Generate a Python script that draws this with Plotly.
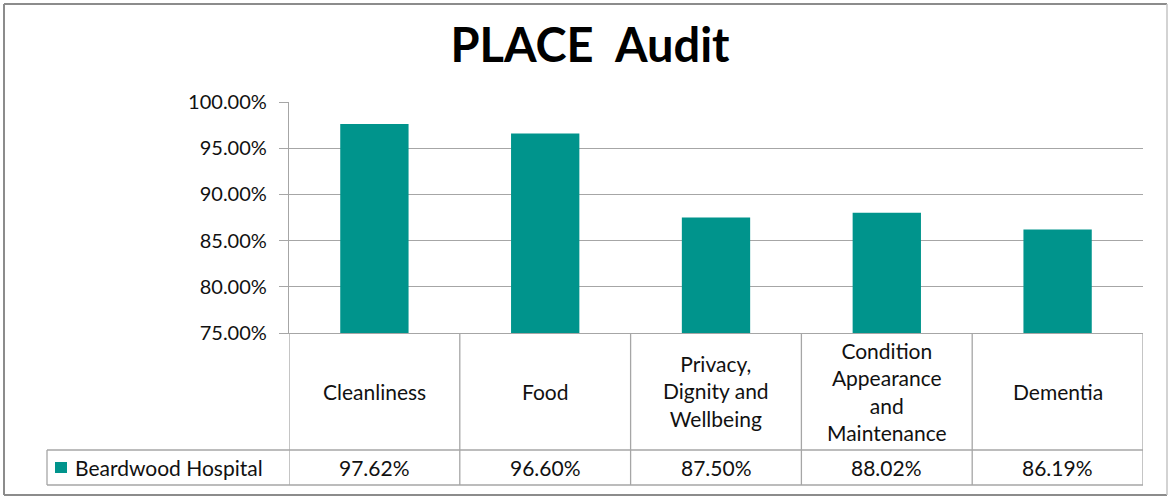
import plotly.graph_objects as go

# ---- data ----
categories = ["Cleanliness", "Food", "Privacy,<br>Dignity and<br>Wellbeing",
              "Condition<br>Appearance<br>and<br>Maintenance", "Dementia"]
series_name = "Beardwood Hospital"
values = [0.9762, 0.9660, 0.8750, 0.8802, 0.8619]
y_ticks = [0.75, 0.80, 0.85, 0.90, 0.95, 1.00]

# ---- layout geometry (pixels) ----
W, H = 1169, 499
L, R, T, B = 289, 1143, 102, 333
PW, PH = R - L, B - T
BAR = "#00948C"
GRID = "#a6a6a6"
FONT = "Lato, 'Gill Sans', sans-serif"

def px(x):
    return (x - L) / PW

def py(y):
    return (B - y) / PH

xs = list(range(len(categories)))

fig = go.Figure()
fig.add_trace(go.Bar(x=xs, y=values, width=0.4, marker=dict(color=BAR, line=dict(width=0)),
                     name=series_name, showlegend=False, hoverinfo="y"))

shapes = []
# table vertical lines (category boundaries)
for i in range(len(categories) + 1):
    shapes.append(dict(type="line", xref="x", yref="paper", x0=i - 0.5, x1=i - 0.5,
                       y0=py(333), y1=py(485), line=dict(color=GRID, width=1.3)))
# table horizontal lines
for yy in (450, 485):
    shapes.append(dict(type="line", xref="paper", yref="paper", x0=px(47), x1=1,
                       y0=py(yy), y1=py(yy), line=dict(color=GRID, width=1.3)))
# legend cell left edge
shapes.append(dict(type="line", xref="paper", yref="paper", x0=px(47), x1=px(47),
                   y0=py(450), y1=py(485), line=dict(color=GRID, width=1.3)))
# legend swatch
shapes.append(dict(type="rect", xref="paper", yref="paper", x0=px(55), x1=px(67),
                   y0=py(462), y1=py(473), fillcolor=BAR, line=dict(width=0)))
# outer chart border
shapes.append(dict(type="line", xref="paper", yref="paper", x0=px(4), x1=px(1167),
                   y0=py(4), y1=py(4), line=dict(color="#8c8c8c", width=2)))
shapes.append(dict(type="line", xref="paper", yref="paper", x0=px(4), x1=px(4),
                   y0=py(4), y1=py(495), line=dict(color="#8c8c8c", width=2)))
shapes.append(dict(type="line", xref="paper", yref="paper", x0=px(4), x1=px(1167),
                   y0=py(495), y1=py(495), line=dict(color="#8c8c8c", width=2)))
shapes.append(dict(type="line", xref="paper", yref="paper", x0=px(1167), x1=px(1167),
                   y0=py(4), y1=py(495), line=dict(color="#c4c4c4", width=1.5)))

annotations = []
for i, c in enumerate(categories):
    annotations.append(dict(x=i, xref="x", y=py(391), yref="paper", text=c, showarrow=False,
                            xanchor="center", yanchor="middle", align="center",
                            font=dict(family=FONT, size=21, color="#111")))
for i, v in enumerate(values):
    annotations.append(dict(x=i, xref="x", y=py(467), yref="paper", text=f"{v:.2%}",
                            showarrow=False, xanchor="center", yanchor="middle",
                            font=dict(family=FONT, size=21, color="#111")))
annotations.append(dict(x=px(73), xref="paper", y=py(467), yref="paper", text=series_name,
                        showarrow=False, xanchor="left", yanchor="middle",
                        font=dict(family=FONT, size=21, color="#111")))

fig.update_layout(
    width=W, height=H,
    margin=dict(l=L, r=W - R, t=T, b=H - B, pad=0),
    paper_bgcolor="white", plot_bgcolor="white",
    title=dict(text="<b>PLACE  Audit</b>", x=590 / W, xanchor="center", xref="container",
               y=1 - 46 / H, yanchor="middle", yref="container",
               font=dict(family=FONT, size=47, color="black")),
    xaxis=dict(range=[-0.5, len(categories) - 0.5], showticklabels=False, showgrid=False,
               showline=True, linecolor=GRID, linewidth=1.3, ticks="", zeroline=False, fixedrange=True),
    yaxis=dict(range=[0.75, 1.0], tickvals=y_ticks, tickformat=".2%", showgrid=True,
               gridcolor=GRID, gridwidth=1.3, showline=True, linecolor=GRID, linewidth=1.3,
               ticks="outside", ticklen=9, tickcolor=GRID, tickwidth=1.3,
               ticklabelstandoff=8, zeroline=False,
               tickfont=dict(family=FONT, size=20, color="#111"), fixedrange=True),
    shapes=shapes, annotations=annotations, showlegend=False, bargap=0.6,
)

fig.write_html("out.html", config={"displayModeBar": False},
               post_script="document.body.style.margin='0';document.body.style.overflow='hidden';")
